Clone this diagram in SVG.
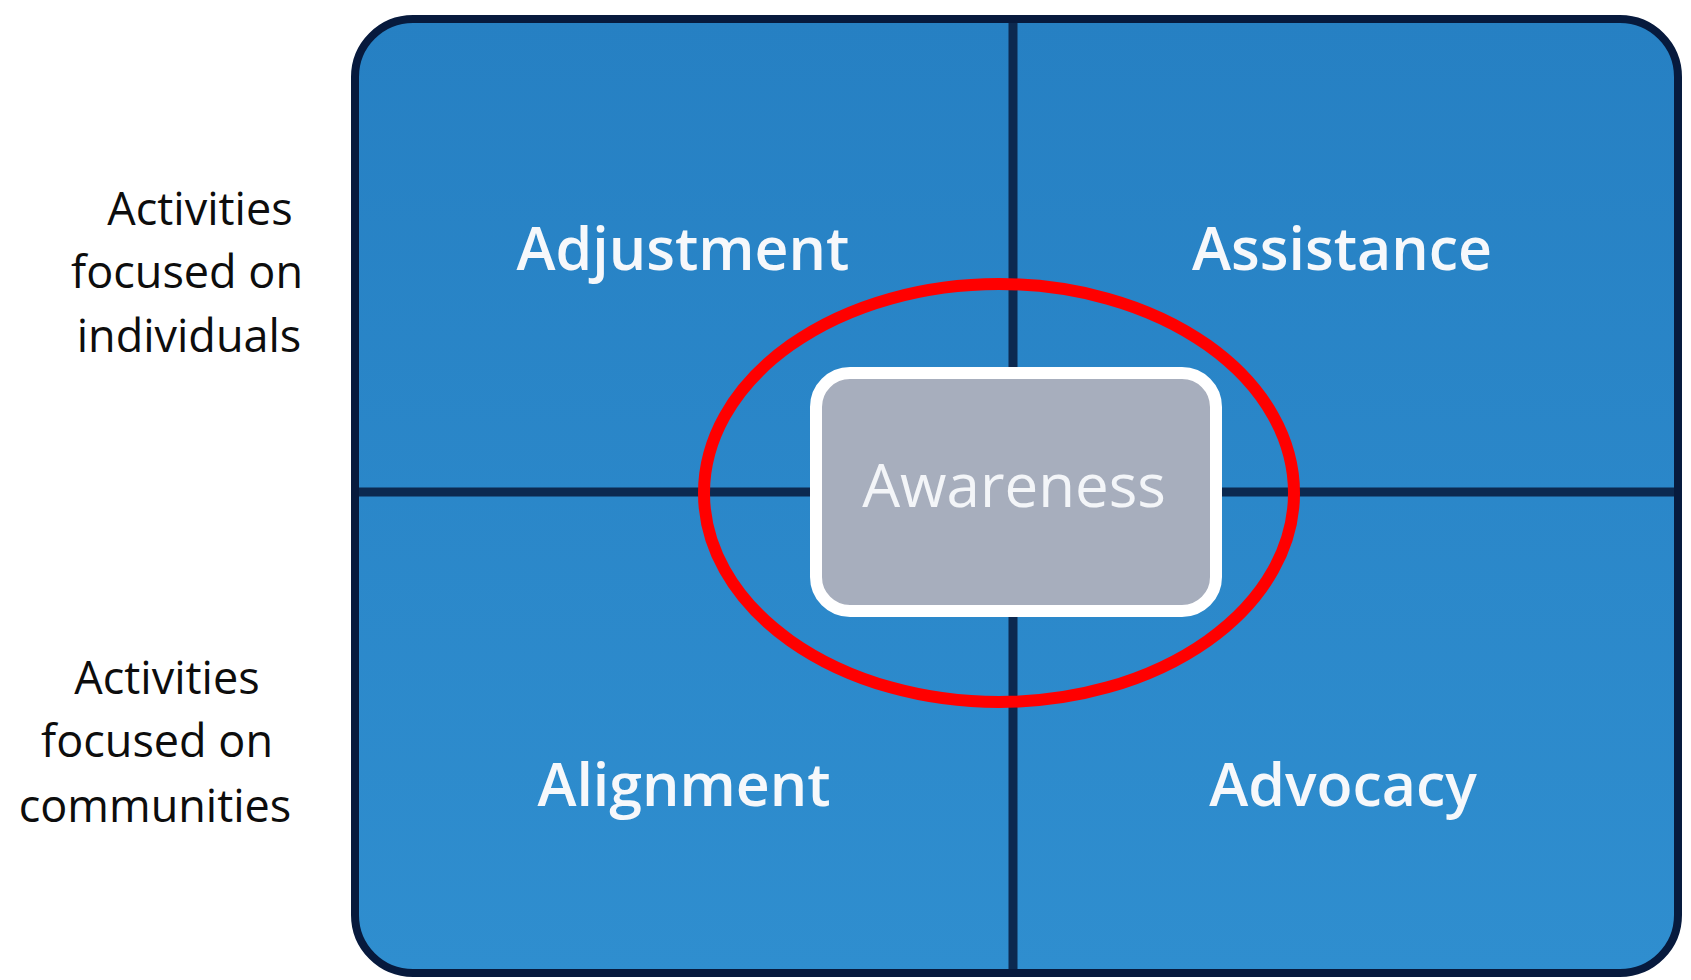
<svg xmlns="http://www.w3.org/2000/svg" width="1691" height="980" viewBox="0 0 1691 980">
  <defs>
    <linearGradient id="bg" x1="0" y1="0" x2="0" y2="1">
      <stop offset="0" stop-color="#2680c3"/>
      <stop offset="1" stop-color="#2f8ecf"/>
    </linearGradient>
  </defs>
  <style>
    .side { font-family: "Open Sans", "Liberation Sans", sans-serif; font-size: 45px; font-weight: 500; fill: #0d0d0d; text-anchor: middle; }
    .quad { font-family: "Open Sans", "Liberation Sans", sans-serif; font-size: 59px; font-weight: 600; fill: #f6f8fb; text-anchor: middle; }
    .divider { stroke: #0c2950; stroke-width: 9; fill: none; }
  </style>
  <rect width="1691" height="980" fill="#ffffff"/>

  <g id="left-labels">
    <text class="side"><tspan x="200" y="225">Activities</tspan><tspan x="187" y="288">focused on</tspan><tspan x="189" y="352">individuals</tspan></text>
    <text class="side"><tspan x="167" y="694">Activities</tspan><tspan x="157" y="757">focused on</tspan><tspan x="155" y="822">communities</tspan></text>
  </g>

  <g id="frame">
    <rect x="355" y="19" width="1323" height="954" rx="58" fill="url(#bg)" stroke="#071a3d" stroke-width="8"/>
  </g>

  <g id="connectors">
    <line class="divider" x1="1013" y1="23" x2="1013" y2="969"/>
    <line class="divider" x1="359" y1="492" x2="1674" y2="492"/>
  </g>

  <g id="adjustment"><text class="quad" x="683" y="270">Adjustment</text></g>
  <g id="assistance"><text class="quad" x="1342" y="270">Assistance</text></g>
  <g id="alignment"><text class="quad" x="684" y="806">Alignment</text></g>
  <g id="advocacy"><text class="quad" x="1343" y="806">Advocacy</text></g>

  <g id="awareness">
    <rect x="816" y="373" width="400" height="238" rx="34" fill="#a7aebd" stroke="#ffffff" stroke-width="12"/>
    <text x="1014" y="507" font-family="'Open Sans', 'Liberation Sans', sans-serif" font-size="60" font-weight="500" fill="#f3f5f8" text-anchor="middle">Awareness</text>
  </g>

  <g id="highlight">
    <ellipse cx="999" cy="493" rx="295" ry="209" fill="none" stroke="#ff0000" stroke-width="12"/>
  </g>
</svg>
